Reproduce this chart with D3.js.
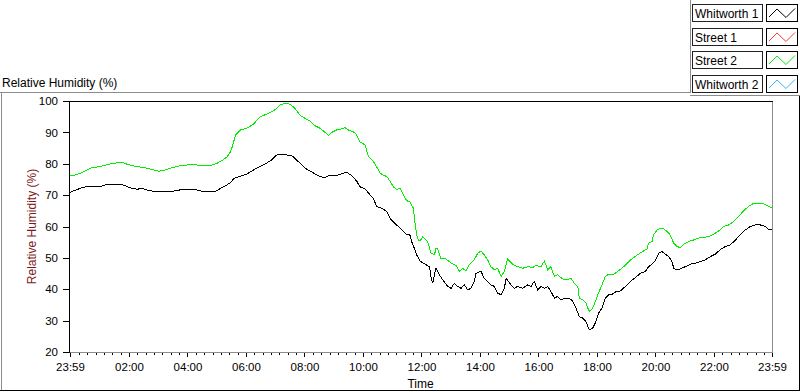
<!DOCTYPE html>
<html>
<head>
<meta charset="utf-8">
<script src="https://cdn.jsdelivr.net/npm/d3@7"></script>
<style>
  body { margin: 0; background: #fff; }
  svg { display: block; font-family: "Liberation Sans", Arial, sans-serif; }
</style>
</head>
<body>
<div id="chart"></div>
<script>
// legend entries (only Whitworth 1 and Street 2 have a trace on the plot)
const seriesNames = ["Whitworth 1", "Street 1", "Street 2", "Whitworth 2"];
const seriesColors = ["#000000", "#ff3b3b", "#00ee00", "#3ab2ff"];

// hours after 23:59 and relative humidity (%)
const w1Hours = [0, 0.14, 0.36, 0.59, 0.82, 1.05, 1.22, 1.39, 1.62, 1.79, 1.96, 2.13, 2.30, 2.47, 2.64, 2.87, 3.10, 3.33, 3.56, 3.78,
  4.01, 4.18, 4.35, 4.58, 4.81, 4.98, 5.15, 5.32, 5.49, 5.61, 5.78, 5.95,
  6.04, 6.27, 6.50, 6.72, 6.89, 7.07, 7.24, 7.41, 7.58, 7.69, 7.86, 8.03, 8.21, 8.38, 8.55, 8.72, 8.83, 9.00, 9.17, 9.34,
  9.46, 9.63, 9.80, 9.91, 10.09, 10.26, 10.37, 10.48, 10.66, 10.83, 10.94, 11.11, 11.28, 11.40, 11.51, 11.62, 11.68, 11.79, 11.85,
  11.97, 12.17, 12.29, 12.34, 12.40, 12.51, 12.63, 12.74, 12.91, 13.03, 13.14, 13.25, 13.37, 13.48, 13.60, 13.71, 13.82, 13.88, 14.05, 14.16,
  14.28, 14.39, 14.51, 14.62, 14.74, 14.85, 14.91, 15.08, 15.19, 15.30, 15.48, 15.65, 15.76, 15.87, 15.99, 16.10, 16.22, 16.33, 16.44, 16.56,
  16.67, 16.79, 16.90, 17.07, 17.19, 17.30, 17.41, 17.53, 17.64, 17.75, 17.87,
  17.98, 18.07, 18.19, 18.30, 18.42, 18.53, 18.64, 18.82, 18.99, 19.16, 19.33, 19.50, 19.67, 19.78, 19.90, 20.01, 20.13, 20.24, 20.35, 20.47,
  20.58, 20.64, 20.75, 20.87, 21.04, 21.21, 21.38, 21.55, 21.72, 21.89, 22.06, 22.23, 22.40, 22.57, 22.75, 22.92, 23.09, 23.26, 23.43, 23.60,
  23.77, 23.89, 24.0];
const w1RH = [70.9, 71.4, 72.2, 72.8, 72.8, 72.8, 73.3, 73.5, 73.4, 73.3, 72.7, 72.1, 71.9, 72.1, 71.6, 71.2, 71.2, 71.0, 71.3, 71.7,
  71.9, 71.9, 71.6, 71.1, 71.2, 71.2, 72.2, 73.0, 74.0, 75.4, 75.9, 76.4,
  76.7, 78.0, 79.1, 80.2, 81.2, 82.8, 83.0, 82.8, 82.6, 81.7, 80.2, 78.6, 77.7, 76.7, 75.9, 75.6, 76.2, 76.4, 76.4, 77.0,
  77.3, 76.2, 74.5, 72.7, 71.9, 70.1, 69.0, 66.4, 65.8, 64.8, 62.6, 61.0, 59.5, 58.4, 57.3, 57.3, 55.2, 52.6, 51.0,
  49.0, 47.8, 47.2, 44.1, 41.9, 46.7, 44.6, 43.0, 40.9, 40.3, 41.9, 40.9, 40.3, 41.4, 39.8, 40.3, 42.5, 45.1, 45.7, 43.5,
  42.5, 41.4, 40.9, 38.8, 38.2, 40.3, 43.5, 41.4, 40.3, 40.9, 40.3, 41.4, 40.9, 42.5, 39.8, 40.9, 40.3, 40.9, 39.3, 37.2,
  37.7, 36.6, 37.2, 37.2, 36.1, 34.0, 31.3, 30.8, 29.7, 27.1, 27.6,
  29.7, 32.4, 34.0, 37.2, 38.2, 38.4, 39.1, 39.5, 40.9, 42.5, 43.7, 45.1, 45.7, 47.2, 48.0, 49.0, 51.5, 52.0, 51.2, 50.4,
  48.8, 46.7, 46.2, 46.5, 47.2, 48.0, 48.3, 48.8, 49.4, 50.4, 51.2, 52.6, 53.6, 54.1, 55.7, 57.5, 58.9, 60.0, 60.5, 60.5,
  60.0, 58.9, 58.9];

const s2Hours = [0, 0.25, 0.48, 0.71, 0.93, 1.16, 1.39, 1.62, 1.79, 1.96, 2.19, 2.42, 2.64, 2.87, 3.04, 3.21, 3.44, 3.73, 4.01, 4.18,
  4.35, 4.58, 4.81, 5.04, 5.21, 5.38, 5.49, 5.55, 5.66, 5.83,
  6.04, 6.27, 6.50, 6.72, 6.95, 7.07, 7.18, 7.35, 7.52, 7.69, 7.86, 8.03, 8.21, 8.38, 8.55, 8.72, 8.83, 8.95, 9.12, 9.29,
  9.40, 9.51, 9.69, 9.80, 9.91, 10.09, 10.20, 10.37, 10.48, 10.60, 10.71, 10.83, 10.94, 11.05, 11.17, 11.28, 11.40, 11.51, 11.62, 11.74,
  11.79, 11.85, 11.91, 11.97,
  12.06, 12.23, 12.34, 12.46, 12.51, 12.57, 12.68, 12.85, 13.03, 13.20, 13.31, 13.42, 13.54, 13.65, 13.82, 13.94, 14.05, 14.16, 14.28, 14.39,
  14.51, 14.62, 14.74, 14.85, 14.96, 15.13, 15.30, 15.48, 15.65, 15.82, 15.93, 16.10, 16.22, 16.33, 16.44, 16.56, 16.67, 16.84, 17.01, 17.13,
  17.24, 17.36, 17.41, 17.53, 17.64, 17.75, 17.87,
  17.96, 18.07, 18.19, 18.30, 18.42, 18.59, 18.76, 18.93, 19.10, 19.27, 19.44, 19.61, 19.73, 19.78, 19.90, 19.95, 20.07, 20.18, 20.30, 20.41,
  20.52, 20.64, 20.75, 20.87, 20.98, 21.15, 21.32, 21.49, 21.66, 21.83, 22.00, 22.18, 22.35, 22.52, 22.69, 22.86, 23.03, 23.20, 23.37, 23.54,
  23.72, 23.89, 24.0];
const s2RH = [76.1, 76.6, 77.5, 78.6, 79.0, 79.4, 80.0, 80.3, 80.5, 79.8, 79.3, 78.9, 78.6, 78.0, 77.6, 77.9, 78.6, 79.3, 79.6, 79.8,
  79.6, 79.3, 79.5, 80.2, 81.1, 82.3, 83.9, 85.5, 89.2, 90.8,
  91.3, 92.6, 95.0, 95.8, 96.8, 97.7, 98.7, 99.3, 99.0, 97.7, 95.5, 94.5, 93.6, 92.1, 91.3, 90.0, 89.0, 90.0, 90.8, 91.1,
  91.5, 90.8, 90.2, 89.2, 87.0, 86.0, 82.3, 80.7, 79.1, 77.0, 76.4, 75.9, 74.5, 72.7, 71.7, 72.2, 70.1, 68.2, 67.9, 65.8,
  61.6, 57.3, 55.7, 55.4,
  56.8, 55.2, 51.5, 51.0, 52.9, 52.9, 49.9, 49.7, 48.3, 47.6, 45.7, 46.7, 45.9, 47.8, 49.4, 51.5, 52.2, 51.0, 49.4, 47.2,
  46.2, 46.7, 44.1, 45.7, 49.7, 48.0, 47.2, 46.7, 47.2, 46.9, 47.6, 47.2, 49.0, 46.2, 47.2, 44.1, 44.6, 43.3, 43.0, 43.5,
  41.9, 40.9, 37.2, 36.6, 35.6, 32.9, 34.0,
  36.1, 38.8, 41.4, 44.1, 44.8, 44.8, 45.9, 47.2, 48.8, 50.1, 51.2, 52.2, 52.9, 54.7, 55.2, 57.3, 58.9, 59.5, 59.2, 58.4,
  57.3, 54.7, 53.6, 53.3, 54.4, 55.2, 55.7, 56.3, 56.5, 56.8, 57.5, 58.6, 60.0, 60.5, 61.6, 63.2, 65.0, 66.4, 67.4, 67.4,
  67.2, 66.4, 66.0];

const yTicks = [20, 30, 40, 50, 60, 70, 80, 90, 100];
const xTickLabels = ["23:59", "02:00", "04:00", "06:00", "08:00", "10:00", "12:00", "14:00", "16:00", "18:00", "20:00", "22:00", "23:59"];

const width = 800, height = 392;
const plot = { left: 69, right: 772, top: 101, bottom: 352 };

const start = new Date(2000, 0, 1, 23, 59);
const day2 = new Date(2000, 0, 2, 0, 0);
const end = new Date(2000, 0, 2, 23, 59);
const hourToDate = h => new Date(start.getTime() + h * 3600e3);

const x = d3.scaleTime().domain([start, end]).range([plot.left + 1, plot.right]);
const y = d3.scaleLinear().domain([20, 100]).range([plot.bottom, plot.top]);

const svg = d3.select("#chart").append("svg")
  .attr("width", width)
  .attr("height", height);

// outer frame
const frame = svg.append("g").attr("shape-rendering", "crispEdges").attr("fill", "none");
frame.append("line").attr("x1", 0).attr("x2", 690).attr("y1", 92.5).attr("y2", 92.5).attr("stroke", "#8c8c8c");
frame.append("line").attr("x1", 1.5).attr("x2", 1.5).attr("y1", 92).attr("y2", 391).attr("stroke", "#8c8c8c");
frame.append("line").attr("x1", 0).attr("x2", 800).attr("y1", 390.5).attr("y2", 390.5).attr("stroke", "#000");
frame.append("line").attr("x1", 799.5).attr("x2", 799.5).attr("y1", 96).attr("y2", 391).attr("stroke", "#000");
frame.append("line").attr("x1", 690.5).attr("x2", 690.5).attr("y1", 0).attr("y2", 93).attr("stroke", "#8c8c8c");
frame.append("line").attr("x1", 690).attr("x2", 800).attr("y1", 95.5).attr("y2", 95.5).attr("stroke", "#8c8c8c");

// titles
svg.append("text")
  .attr("x", 2).attr("y", 87)
  .attr("font-size", 12)
  .text("Relative Humidity (%)");

svg.append("text")
  .attr("transform", "translate(36," + ((plot.top + plot.bottom) / 2) + ") rotate(-90)")
  .attr("text-anchor", "middle")
  .attr("font-size", 12)
  .attr("fill", "#7a1a1a")
  .text("Relative Humidity (%)");

svg.append("text")
  .attr("x", (plot.left + plot.right) / 2).attr("y", 388)
  .attr("text-anchor", "middle")
  .attr("font-size", 12)
  .text("Time");

// y axis
const yAxis = svg.append("g")
  .attr("transform", "translate(" + plot.left + ",0)")
  .call(d3.axisLeft(y).tickValues(yTicks).tickSize(6).tickPadding(5));
yAxis.select(".domain").remove();
yAxis.selectAll("text").attr("font-size", 11.5).attr("font-family", "Liberation Sans, Arial, sans-serif").attr("fill", "#000");
yAxis.attr("shape-rendering", "crispEdges");

// x axis, major ticks
const xTickDates = xTickLabels.map((s, i) => {
  if (i === 0) return start;
  const p = s.split(":");
  return new Date(2000, 0, 2, +p[0], +p[1]);
});
const xAxis = svg.append("g")
  .attr("transform", "translate(0," + plot.bottom + ")")
  .call(d3.axisBottom(x).tickValues(xTickDates).tickSize(5).tickPadding(6)
    .tickFormat((d, i) => xTickLabels[i]));
xAxis.select(".domain").remove();
xAxis.selectAll("text").attr("font-size", 11.5).attr("font-family", "Liberation Sans, Arial, sans-serif").attr("fill", "#000");
xAxis.attr("shape-rendering", "crispEdges");

// minor ticks, 7 per 2 hours
const minorDates = d3.range(0, 12 * 7 + 1)
  .map(k => new Date(day2.getTime() + k * (120 / 7) * 60e3))
  .filter(d => d >= start && d <= end);
const xMinor = svg.append("g")
  .attr("transform", "translate(0," + plot.bottom + ")")
  .call(d3.axisBottom(x).tickValues(minorDates).tickSize(3).tickFormat(""));
xMinor.select(".domain").remove();
xMinor.attr("shape-rendering", "crispEdges");

// plot border
const border = svg.append("g").attr("shape-rendering", "crispEdges");
border.append("line").attr("x1", plot.left).attr("x2", plot.right + 1).attr("y1", plot.top + 0.5).attr("y2", plot.top + 0.5).attr("stroke", "#000");
border.append("line").attr("x1", plot.left + 0.5).attr("x2", plot.left + 0.5).attr("y1", plot.top).attr("y2", plot.bottom + 1).attr("stroke", "#000");
border.append("line").attr("x1", plot.left + 1).attr("x2", plot.right + 1).attr("y1", plot.bottom + 0.5).attr("y2", plot.bottom + 0.5).attr("stroke", "#8c8c8c");
border.append("line").attr("x1", plot.right + 0.5).attr("x2", plot.right + 0.5).attr("y1", plot.top + 1).attr("y2", plot.bottom + 1).attr("stroke", "#8c8c8c");

// traces
svg.append("clipPath").attr("id", "clip").append("rect")
  .attr("x", plot.left + 1).attr("y", plot.top + 1)
  .attr("width", plot.right - plot.left - 1).attr("height", plot.bottom - plot.top - 1);

const line = d3.line()
  .x(d => x(hourToDate(d[0])))
  .y(d => y(d[1]));

const traces = [
  { data: d3.zip(w1Hours, w1RH), color: seriesColors[0] },
  { data: d3.zip(s2Hours, s2RH), color: seriesColors[2] }
];

svg.append("g").attr("clip-path", "url(#clip)")
  .selectAll("path")
  .data(traces)
  .enter()
  .append("path")
  .attr("d", d => line(d.data))
  .attr("fill", "none")
  .attr("stroke", d => d.color)
  .attr("stroke-width", 1)
  .attr("shape-rendering", "crispEdges");

// legend
const rowTop = [4, 28, 51, 75];
const legend = svg.append("g");
const rows = legend.selectAll("g")
  .data(seriesNames)
  .enter()
  .append("g")
  .attr("transform", (d, i) => "translate(0," + rowTop[i] + ")");

rows.append("rect")
  .attr("x", 692.5).attr("y", 0.5)
  .attr("width", 70).attr("height", 17)
  .attr("fill", "#fff").attr("stroke", "#222")
  .attr("shape-rendering", "crispEdges");

rows.append("text")
  .attr("x", 695).attr("y", 13.5)
  .attr("font-size", 12)
  .text(d => d);

rows.append("rect")
  .attr("x", 766.5).attr("y", 0.5)
  .attr("width", 31).attr("height", 17)
  .attr("fill", "#fff").attr("stroke", "#000")
  .attr("shape-rendering", "crispEdges");

rows.append("path")
  .attr("d", "M769,13 L777,5 L786,13.5 L795,4.5")
  .attr("fill", "none")
  .attr("stroke", (d, i) => seriesColors[i]);
</script>
</body>
</html>
